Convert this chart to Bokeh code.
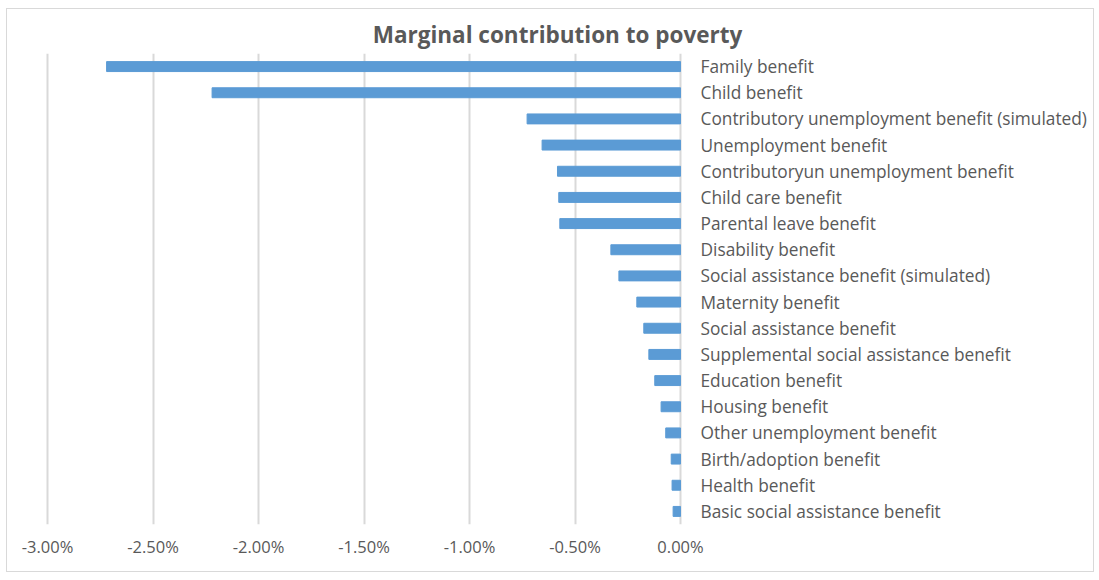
from bokeh.plotting import figure
from bokeh.models import FixedTicker, PrintfTickFormatter, Range1d
from bokeh.core.properties import value
from bokeh.embed import file_html
from bokeh.resources import INLINE

categories = [
    "Family benefit",
    "Child benefit",
    "Contributory unemployment benefit (simulated)",
    "Unemployment benefit",
    "Contributoryun unemployment benefit",
    "Child care benefit",
    "Parental leave benefit",
    "Disability benefit",
    "Social assistance benefit (simulated)",
    "Maternity benefit",
    "Social assistance benefit",
    "Supplemental social assistance benefit",
    "Education benefit",
    "Housing benefit",
    "Other unemployment benefit",
    "Birth/adoption benefit",
    "Health benefit",
    "Basic social assistance benefit",
]
values = [-2.72, -2.22, -0.727, -0.656, -0.583, -0.577, -0.572, -0.330, -0.292,
          -0.207, -0.174, -0.150, -0.122, -0.092, -0.070, -0.044, -0.040, -0.035]
tick_values = [-3.0, -2.5, -2.0, -1.5, -1.0, -0.5, 0.0]

FONT = "Open Sans"
GREY = "#595959"

p = figure(
    width=1088, height=564,
    y_range=list(reversed(categories)),
    x_range=Range1d(-3.1327, 1.9668),
    output_backend="svg", toolbar_location=None,
    min_border_left=12, min_border_right=0, min_border_top=44, min_border_bottom=49,
    title="Marginal contribution to poverty",
)
p.styles = {"border": "1px solid #d9d9d9", "margin-left": "6px", "margin-top": "8px"}
p.outline_line_color = None

p.title.align = "center"
p.title.text_font = FONT
p.title.text_font_size = "22.5px"
p.title.text_font_style = "bold"
p.title.text_color = GREY
p.title.standoff = 7

p.hbar(y=categories, left=values, right=0, height=0.38, color="#5B9BD5")
p.text(x=[0] * len(categories), y=categories, text=categories, x_offset=20,
       text_baseline="middle", text_align="left", text_font=value(FONT),
       text_font_size="17.3px", text_color=GREY)

p.xaxis.ticker = FixedTicker(ticks=tick_values)
p.xaxis.formatter = PrintfTickFormatter(format="%.2f%%")
p.xaxis.axis_line_color = None
p.xaxis.major_tick_line_color = None
p.xaxis.minor_tick_line_color = None
p.xaxis.major_label_text_font = FONT
p.xaxis.major_label_text_font_size = "16.5px"
p.xaxis.major_label_text_color = GREY
p.xaxis.major_label_standoff = 4
p.yaxis.visible = False

p.xgrid.grid_line_color = "#d9d9d9"
p.xgrid.grid_line_width = 2
p.ygrid.grid_line_color = None

open("out.html", "w").write(file_html(p, INLINE))
